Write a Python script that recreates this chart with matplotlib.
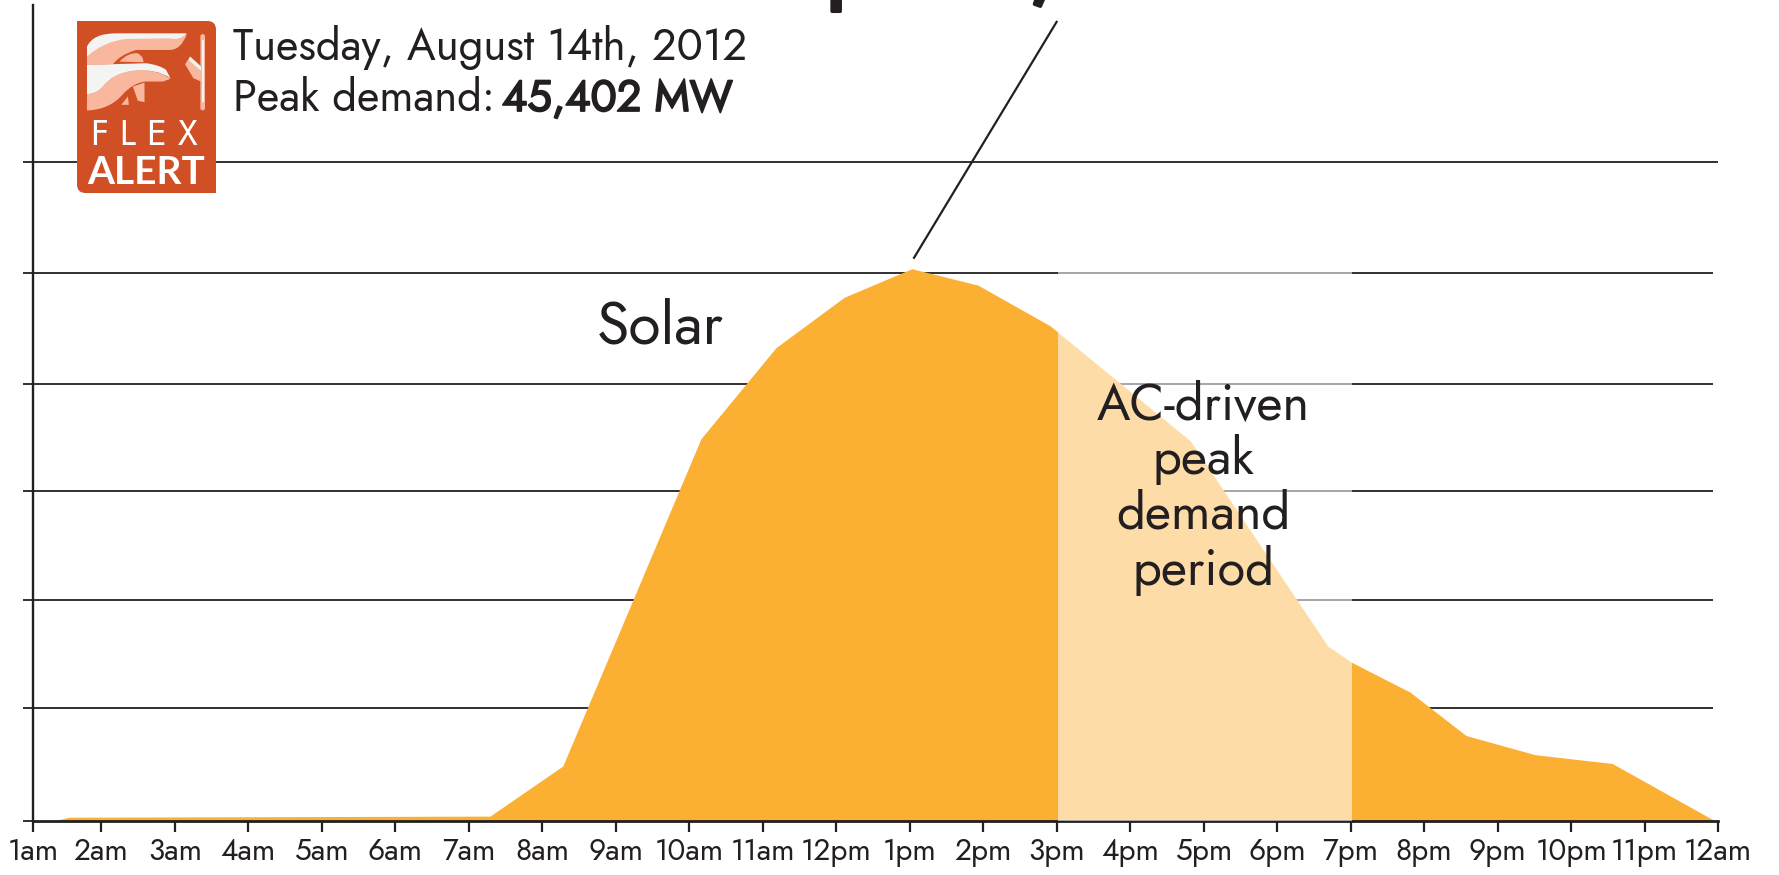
# Solar output on the Flex Alert day, one day of hourly generation

import matplotlib
matplotlib.use('Agg')
import matplotlib.pyplot as plt
import matplotlib.patheffects as pe
from matplotlib.patches import Rectangle, PathPatch, FancyBboxPatch
from matplotlib.path import Path

# --------------------------------------------------

# DATA (y is in gridline units, the chart has no y labels)
hours = [1.37, 1.56, 7.29, 8.28, 10.16, 11.18, 12.11, 13.03, 13.93, 14.91, 15.02,
         16.82, 18.69, 19.02, 19.81, 20.57, 21.51, 22.56, 23.95]
solar = [0, 0.03, 0.04, 0.497, 3.48, 4.31, 4.77, 5.03, 4.88, 4.51, 4.45,
         3.46, 1.59, 1.44, 1.17, 0.775, 0.60, 0.52, 0]

tick_pos = [1.075] + list(range(2, 25))
tick_labels = ['1am', '2am', '3am', '4am', '5am', '6am', '7am', '8am', '9am', '10am', '11am', '12pm',
               '1pm', '2pm', '3pm', '4pm', '5pm', '6pm', '7pm', '8pm', '9pm', '10pm', '11pm', '12am']

grid_y = [1.03, 2.01, 3.0, 3.98, 4.99, 6.0]
grid_end = [23.93, 23.93, 23.93, 23.93, 23.93, 24.0]

peak_start = 15.02
peak_end = 19.02

DARK = '#231F20'
ORANGE = '#FBB034'

plt.rcParams['font.family'] = ['Jost', 'Lato', 'DejaVu Sans']

W, H = 1779, 875

# Jost only has the one weight here, so thicken it by hand
heavy = [pe.withStroke(linewidth=1.3, foreground=DARK)]

# --------------------------------------------------

fig = plt.figure(figsize=(W / 100, H / 100), dpi=100)
ax = fig.add_axes([33.3 / W, (H - 820.5) / H, (1718 - 33.3) / W, (820.5 - 5) / H])
ax.set_xlim(1.075, 24)
ax.set_ylim(0, 7.434)

# Gridlines go under the area, the white veil goes over both
ax.hlines(grid_y, 1.075, grid_end, color=DARK, lw=1.3, zorder=1)
ax.fill_between(hours, solar, color=ORANGE, lw=0, zorder=2)
ax.axvspan(peak_start, peak_end, ymin=0, ymax=5.5 / 7.434, color='white', alpha=0.57, lw=0, zorder=4)

for s in ['top', 'right']:
    ax.spines[s].set_visible(False)
ax.spines['left'].set_color(DARK)
ax.spines['bottom'].set_color(DARK)
ax.spines['left'].set_linewidth(1.7)
ax.spines['bottom'].set_linewidth(2)
ax.spines['bottom'].set_zorder(3)
ax.set_axisbelow(True)

ax.set_xticks(tick_pos)
ax.set_xticklabels(tick_labels, fontsize=21.5, color=DARK)
ax.tick_params(axis='x', length=8, width=1.6, color=DARK, pad=4)
ax.set_yticks([0] + grid_y)
ax.set_yticklabels([])
ax.tick_params(axis='y', length=7, width=1.3, color=DARK)

# Leader line from the peak to the cropped headline
ax.plot([13.06, 15.0], [5.13, 7.28], color=DARK, lw=1.6, zorder=5, clip_on=False)

# Text
ax.text(8.74, 4.35, 'Solar', fontsize=42.5, color=DARK, va='baseline', ha='left', zorder=6)
for label, base in zip(['AC-driven', 'peak', 'demand', 'period'], [3.65, 3.16, 2.66, 2.15]):
    ax.text(17.0, base, label, fontsize=36.5, color=DARK, ha='center', va='baseline', zorder=6)

fig.text(233 / W, 1 - 60 / H, 'Tuesday, August 14th, 2012', fontsize=31.3, color=DARK, va='baseline')
fig.text(233 / W, 1 - 111 / H, 'Peak demand:', fontsize=31.3, color=DARK, va='baseline')
fig.text(502 / W, 1 - 111 / H, '45,402 MW', fontsize=31.3, color=DARK, va='baseline', path_effects=heavy)

# Headline is cut off by the top edge, only its descenders show
fig.text(825 / W, 1 + 11 / H, 'peak,', fontsize=73, color=DARK, va='baseline',
         path_effects=[pe.withStroke(linewidth=2.5, foreground=DARK)])

# --------------------------------------------------

# FLEX ALERT badge, its own little axes in badge units
logo = fig.add_axes([77 / W, 1 - 193 / H, 139 / W, 172 / H], zorder=10)
logo.set_xlim(22, 440)
logo.set_ylim(535, 18)
logo.axis('off')
RUST = '#D04F25'
PINK = '#F9B79D'
PALE = '#F4F5F3'
logo.add_patch(FancyBboxPatch((22, 18), 418, 517, boxstyle='round,pad=0,rounding_size=26', fc=RUST, ec='none', clip_on=False))
logo.add_patch(Rectangle((22, 18), 100, 100, fc=RUST, ec='none'))
logo.add_patch(Rectangle((340, 435), 100, 100, fc=RUST, ec='none'))

M, C, L, Z = Path.MOVETO, Path.CURVE3, Path.LINETO, Path.CLOSEPOLY


def shape(ax_, pts, codes, col):
    ax_.add_patch(PathPatch(Path(pts, codes), fc=col, ec='none'))


# upper hand
shape(logo, [(52, 120), (100, 80), (170, 70), (352, 58), (335, 105), (300, 105), (200, 105), (150, 120), (130, 148), (52, 150), (52, 120)],
      [M, C, C, L, C, C, L, C, C, L, Z], PINK)
shape(logo, [(52, 95), (70, 55), (140, 55), (352, 55), (330, 78), (300, 70), (170, 72), (100, 80), (52, 125), (52, 95)],
      [M, C, C, L, C, C, L, C, C, Z], PALE)
# lower hand
shape(logo, [(52, 238), (85, 235), (100, 215), (130, 175), (190, 168), (260, 160), (303, 192), (280, 200), (225, 200), (190, 205), (160, 238), (120, 285), (52, 287), (52, 238)],
      [M, C, C, C, C, C, C, L, L, C, C, C, C, Z], PINK)
shape(logo, [(52, 150), (230, 145), (270, 150), (290, 165), (303, 190), (260, 160), (190, 168), (130, 175), (100, 215), (85, 235), (52, 238), (52, 150)],
      [M, L, C, C, L, C, C, C, C, C, C, Z], PALE)
# knuckles
shape(logo, [(150, 140), (175, 112), (205, 115), (222, 125), (222, 142), (150, 140)], [M, C, C, C, L, Z], PINK)
shape(logo, [(190, 215), (225, 203), (225, 262), (205, 258), (190, 215)], [M, L, L, L, Z], PINK)
shape(logo, [(155, 270), (175, 245), (178, 270), (155, 270)], [M, L, L, Z], PINK)
# thumb and side stroke
shape(logo, [(393, 62), (400, 52), (407, 62), (407, 282), (400, 292), (393, 282), (393, 62)], [M, C, C, L, C, C, Z], PINK)
shape(logo, [(398, 75), (403, 75), (403, 262), (398, 262), (398, 75)], [M, L, L, L, Z], PALE)
shape(logo, [(347, 148), (362, 125), (395, 155), (395, 200), (372, 190), (347, 148)], [M, L, L, L, L, Z], PINK)
shape(logo, [(362, 125), (395, 155), (395, 168), (358, 135), (362, 125)], [M, L, L, L, Z], PALE)

logo.text(225, 362, 'F L E X', fontsize=26, color='white', ha='center', va='center')
logo.text(231, 472, 'ALERT', fontsize=28, color='white', ha='center', va='center', family='Lato', fontweight='bold')

fig.savefig('out.png', dpi=100)
